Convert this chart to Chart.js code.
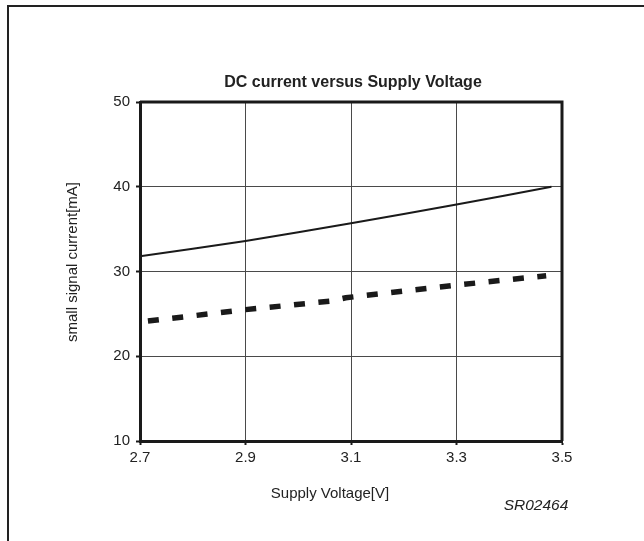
<!DOCTYPE html>
<html>
<head>
<meta charset="utf-8">
<script src="https://cdn.jsdelivr.net/npm/chart.js@4"></script>
<style>
  body { margin: 0; background: #fff; }
  #wrap { position: relative; width: 644px; height: 541px; overflow: hidden; }
  #frame { position: absolute; left: 7px; top: 5px; width: 700px; height: 600px;
           border-left: 2px solid #222; border-top: 2px solid #222; }
  #chart { position: absolute; left: 0; top: 0; }
</style>
</head>
<body>
<div id="wrap">
  <div id="frame"></div>
  <canvas id="chart" width="644" height="541"></canvas>
</div>
<script>
const solidVolts = [2.7, 2.9, 3.1, 3.3, 3.48];
const solidCurrent = [31.8, 33.6, 35.7, 37.9, 40.0];
const dashVolts = [2.715, 2.9, 3.06, 3.09, 3.3, 3.47];
const dashCurrent = [24.15, 25.5, 26.5, 26.9, 28.4, 29.5];
const xTicks = [2.7, 2.9, 3.1, 3.3, 3.5];
const yTicks = [10, 20, 30, 40, 50];

const FONT = "'Liberation Sans', Arial, sans-serif";
const ink = '#1a1a1a';

function points(xs, ys) {
  return xs.map((x, i) => ({ x: x, y: ys[i] }));
}

// title, axis captions, drawing id and the top/right box edges
const decor = {
  id: 'decor',
  afterDraw(chart) {
    const ctx = chart.ctx;
    const a = chart.chartArea;
    ctx.save();
    ctx.strokeStyle = ink;
    ctx.lineWidth = 3;
    ctx.beginPath();
    ctx.moveTo(a.left, a.top);
    ctx.lineTo(a.right, a.top);
    ctx.lineTo(a.right, a.bottom);
    ctx.stroke();

    ctx.fillStyle = '#222';
    ctx.textAlign = 'center';
    ctx.textBaseline = 'middle';
    ctx.font = 'bold 16px ' + FONT;
    ctx.fillText('DC current versus Supply Voltage', 353, 83);

    ctx.font = '15px ' + FONT;
    ctx.fillText('Supply Voltage[V]', 330, 494);

    ctx.font = 'italic 15.5px ' + FONT;
    ctx.fillText('SR02464', 536, 506);

    ctx.translate(73, 262);
    ctx.rotate(-Math.PI / 2);
    ctx.font = '15px ' + FONT;
    ctx.fillText('small signal current[mA]', 0, 0);
    ctx.restore();
  }
};

new Chart(document.getElementById('chart'), {
  type: 'line',
  data: {
    datasets: [{
      data: points(solidVolts, solidCurrent),
      borderColor: ink,
      borderWidth: 2,
      pointRadius: 0,
      tension: 0.2
    }, {
      data: points(dashVolts, dashCurrent),
      borderColor: ink,
      borderWidth: 5.5,
      borderDash: [11, 13.5],
      pointRadius: 0,
      tension: 0
    }]
  },
  options: {
    responsive: false,
    animation: false,
    layout: { padding: { left: 0, top: 102, right: 82, bottom: 0 } },
    plugins: {
      legend: { display: false },
      title: { display: false },
      tooltip: { enabled: false }
    },
    scales: {
      x: {
        type: 'linear',
        min: 2.7,
        max: 3.5,
        afterFit: s => { s.height = 100; },
        afterBuildTicks: s => { s.ticks = xTicks.map(v => ({ value: v })); },
        grid: { color: '#4a4a4a', lineWidth: 1, tickLength: 4, tickColor: ink, tickWidth: 2 },
        border: { color: ink, width: 3 },
        ticks: { color: '#222', font: { family: FONT, size: 15 }, padding: 4, maxRotation: 0,
                 callback: v => v.toFixed(1) }
      },
      y: {
        min: 10,
        max: 50,
        afterFit: s => { s.width = 140; },
        afterBuildTicks: s => { s.ticks = yTicks.map(v => ({ value: v })); },
        grid: { color: '#4a4a4a', lineWidth: 1, tickLength: 4, tickColor: ink, tickWidth: 2 },
        border: { color: ink, width: 3 },
        ticks: { color: '#222', font: { family: FONT, size: 15 }, padding: 6 }
      }
    }
  },
  plugins: [decor]
});
</script>
</body>
</html>
